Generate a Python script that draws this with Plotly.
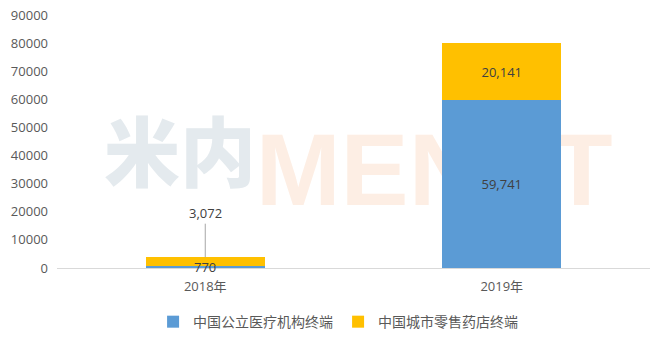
import plotly.graph_objects as go

categories = ["2018年", "2019年"]
public_hospital = [770, 59741]
retail_pharmacy = [3072, 20141]
series_names = ["中国公立医疗机构终端", "中国城市零售药店终端"]
y_ticks = [0, 10000, 20000, 30000, 40000, 50000, 60000, 70000, 80000, 90000]

BLUE = "#5b9bd5"
YELLOW = "#ffc000"
TXT = "#404040"
FONT = "Open Sans, Noto Sans CJK SC, sans-serif"

fig = go.Figure()
fig.add_trace(go.Bar(
    x=categories, y=public_hospital, name=series_names[0],
    marker=dict(color=BLUE, line=dict(width=0)),
    text=["", f"{public_hospital[1]:,}"], textposition="inside",
    insidetextanchor="middle", textfont=dict(color=TXT, size=13, family=FONT),
    constraintext="none",
))
fig.add_trace(go.Bar(
    x=categories, y=retail_pharmacy, name=series_names[1],
    marker=dict(color=YELLOW, line=dict(width=0)),
    text=["", f"{retail_pharmacy[1]:,}"], textposition="inside",
    insidetextanchor="middle", textfont=dict(color=TXT, size=13, family=FONT),
    constraintext="none",
))

# 2018 labels
fig.add_annotation(x=categories[0], y=public_hospital[0] / 2, text=f"{public_hospital[0]:,}",
                   showarrow=False, font=dict(color=TXT, size=13, family=FONT), yanchor="middle")
fig.add_annotation(x=categories[0], y=public_hospital[0] + retail_pharmacy[0],
                   text=f"{retail_pharmacy[0]:,}", showarrow=True, arrowhead=0,
                   arrowcolor="#a6a6a6", arrowwidth=1, ax=0, ay=-44,
                   font=dict(color=TXT, size=13, family=FONT))

# watermark (behind bars)
fig.add_shape(type="rect", xref="paper", yref="paper", x0=0.098, x1=0.317, y0=0.269, y1=0.585,
              line=dict(width=0), fillcolor="rgba(0,0,0,0)", layer="below",
              label=dict(text="米内", font=dict(size=76, color="#e4eaee",
                                                family="Noto Sans CJK SC", weight=900),
                         textposition="middle center"))
fig.add_shape(type="rect", xref="paper", yref="paper", x0=0.339, x1=0.933, y0=0.269, y1=0.585,
              line=dict(width=0), fillcolor="rgba(0,0,0,0)", layer="below",
              label=dict(text="MENET", font=dict(size=102, color="#fdeee4",
                                                 family="Liberation Sans", weight="bold"),
                         textposition="middle center"))

fig.update_layout(
    barmode="stack", bargap=0.6,
    width=658, height=343,
    margin=dict(l=57, r=8, t=15, b=75, autoexpand=False),
    paper_bgcolor="white", plot_bgcolor="white",
    font=dict(family=FONT, color="#595959", size=13),
    showlegend=True,
    legend=dict(orientation="h", x=0.474, xanchor="center", yref="container",
                y=0.061, yanchor="middle",
                font=dict(size=14, color="#595959", family="Noto Sans CJK SC"),
                itemsizing="constant", traceorder="normal"),
    xaxis=dict(showline=True, linecolor="#d9d9d9", linewidth=1, ticks="",
               ticklabelstandoff=6,
               tickfont=dict(size=13, color="#595959", family=FONT)),
    yaxis=dict(range=[0, 90000], tickvals=y_ticks, showgrid=False, zeroline=False,
               showline=False, tickformat="d", ticklabelstandoff=8,
               tickfont=dict(size=13, color="#595959", family=FONT)),
)

fig.write_html("out.html")
